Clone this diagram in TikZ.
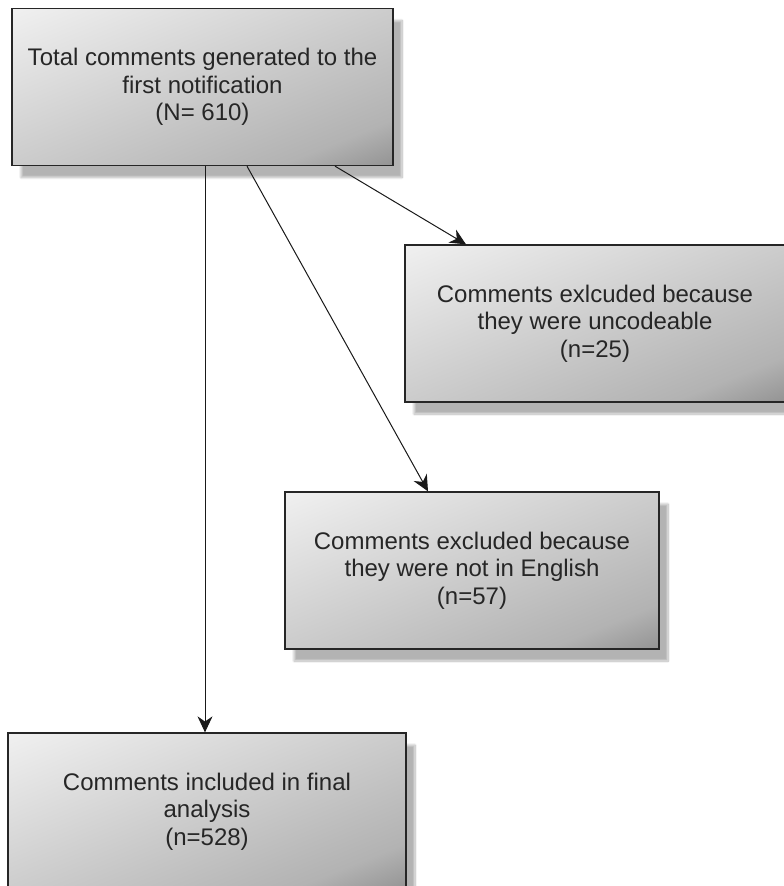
\documentclass[tikz,border=0pt]{standalone}
\usepackage{fontspec}
\setmainfont{Liberation Sans}
\usetikzlibrary{arrows.meta,shadows.blur}

%% soft fill: light at the top left, darkening near the bottom right corner
\pgfdeclareverticalshading{boxfade}{100bp}{color(0bp)=(black!70);
  color(4bp)=(black!70); color(13bp)=(black!48); color(27bp)=(black!30);
  color(50bp)=(black!20); color(96bp)=(white); color(100bp)=(white)}

\begin{document}
\begin{tikzpicture}[x=1pt, y=-1pt, >={Stealth[length=16pt,width=15pt]},
  flowbox/.style={draw=black!85, line width=1.3pt, inner sep=0pt,
    minimum width=#1, minimum height=157pt, align=center,
    text=black!85, font=\fontsize{24}{27.5}\selectfont,
    shade, shading=boxfade, shading angle=22,
    blur shadow={shadow xshift=9pt, shadow yshift=-12pt,
      shadow blur steps=12, shadow opacity=30}},
  flowbox/.default=381pt,
  link/.style={->, line width=1pt, black!90}]
  \useasboundingbox (0,0) rectangle (784,886);

  %% Boxes (centres in pixel coordinates)
  \node[flowbox=381pt] (total) at (202.5,87)
    {Total comments generated to the\\first notification\\(N= 610)};
  \node[flowbox=380pt] (uncode) at (595,323.5)
    {Comments exlcuded because\\they were uncodeable\\(n=25)};
  \node[flowbox=374pt] (english) at (472,570.5)
    {Comments excluded because\\they were not in English\\(n=57)};
  \node[flowbox=398pt] (final) at (207,811.5)
    {Comments included in final\\analysis\\(n=528)};

  %% Connectors
  \draw[link] ([xshift=2.5pt]total.south) -- ([xshift=-2pt]final.north);
  \draw[link] ([xshift=44.5pt]total.south) -- ([xshift=-44pt]english.north);
  \draw[link] ([xshift=132.5pt]total.south) -- ([xshift=-129pt]uncode.north);
\end{tikzpicture}
\end{document}
